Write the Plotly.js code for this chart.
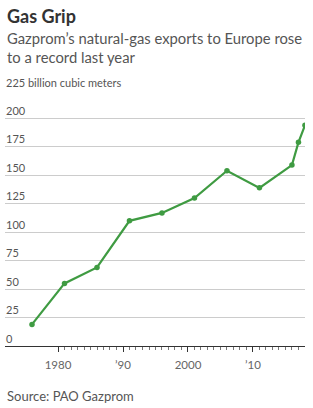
<!DOCTYPE html>
<html>
<head>
<meta charset="utf-8">
<script src="https://cdn.plot.ly/plotly-3.0.1.min.js"></script>
<style>html,body{margin:0;padding:0;background:#fff;}#chart{width:313px;height:408px;}</style>
</head>
<body>
<div id="chart"></div>
<script>
// Data (billion cubic meters)
const years = [1975, 1980, 1985, 1990, 1995, 2000, 2005, 2010, 2015, 2016, 2017];
const exports = [19, 55, 69, 110, 117, 130, 154, 139, 159, 179, 194];
const yTickVals = [0, 25, 50, 75, 100, 125, 150, 175, 200, 225];
const yTickText = ['0', '25', '50', '75', '100', '125', '150', '175', '200', '225 billion cubic meters'];
const xTickYears = [1980, 1990, 2000, 2010];
const xTickText = ['1980', "\u201990", '2000', "\u201910"];

const titleText = 'Gas Grip';
const subtitleText = 'Gazprom\u2019s natural-gas exports to Europe rose<br>to a record last year';
const sourceText = 'Source: PAO Gazprom';

const green = '#3f9b42';
// data points sit at the end of each year
const xDates = years.map(y => y + '-12-31');
const minorVals = [];
for (let y = 1981; y <= 2017; y++) { if (y % 10 !== 0) minorVals.push(y + '-01-01'); }

const trace = {x: xDates, y: exports, type: 'scatter', mode: 'lines+markers',
  line: {color: green, width: 2.2}, marker: {color: green, size: 5.5}, hoverinfo: 'none'};

const yLabelAnn = yTickVals.map((v, i) => ({
  text: yTickText[i], xref: 'paper', yref: 'y', x: 0, y: v, xanchor: 'left', yanchor: 'middle',
  xshift: -1, yshift: 8, showarrow: false, align: 'left',
  font: {family: 'Lato, sans-serif', size: 11, color: '#555'}
}));

const layout = {
  width: 313, height: 408,
  margin: {l: 5, r: 8, t: 90, b: 62},
  paper_bgcolor: '#fff', plot_bgcolor: '#fff', showlegend: false,
  xaxis: {
    type: 'date', range: ['1971-11-05', '2018-01-03'],
    tickmode: 'array', tickvals: xTickYears.map(y => y + '-01-01'), ticktext: xTickText,
    ticks: 'outside', ticklen: 5, tickwidth: 1, tickcolor: '#333', ticklabelstandoff: 3,
    showline: true, linecolor: '#333', linewidth: 1, showgrid: false, zeroline: false,
    tickfont: {family: 'Lato, sans-serif', size: 11.5, color: '#666'},
    minor: {tickmode: 'array', tickvals: minorVals, ticks: 'outside', ticklen: 3, tickwidth: 1, tickcolor: '#777', showgrid: false}
  },
  yaxis: {
    range: [0, 225], tickmode: 'array', tickvals: yTickVals, showticklabels: false, ticks: '',
    showgrid: true, gridcolor: '#cccccc', gridwidth: 1, zeroline: false, showline: false
  },
  annotations: [
    {text: '<b>' + titleText + '</b>', xref: 'paper', yref: 'paper', x: 0, y: 1, xanchor: 'left', yanchor: 'middle',
     yshift: 74, showarrow: false, align: 'left', font: {family: 'Lato, sans-serif', size: 18, color: '#333'}},
    {text: subtitleText, xref: 'paper', yref: 'paper', x: 0, y: 1, xanchor: 'left', yanchor: 'middle',
     yshift: 43, showarrow: false, align: 'left', font: {family: 'Lato, sans-serif', size: 14.8, color: '#555'}},
    {text: sourceText, xref: 'paper', yref: 'paper', x: 0, y: 0, xanchor: 'left', yanchor: 'middle',
     yshift: -50, showarrow: false, align: 'left', font: {family: 'Lato, sans-serif', size: 13, color: '#555'}}
  ].concat(yLabelAnn)
};

Plotly.newPlot('chart', [trace], layout, {displayModeBar: false, staticPlot: true});
</script>
</body>
</html>
